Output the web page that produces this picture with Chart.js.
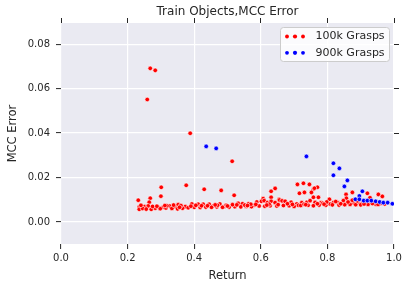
<!DOCTYPE html>
<html>
<head>
<meta charset="utf-8">
<script src="https://cdn.jsdelivr.net/npm/chart.js@4"></script>
<style>
  html, body { margin: 0; padding: 0; background: #ffffff; }
  #wrap { width: 410px; height: 290px; }
</style>
</head>
<body>
<div id="wrap"><canvas id="chart" width="410" height="290"></canvas></div>
<script>
// 100k grasps: return vs MCC error
var grasps100kReturn = [
  0.268, 0.283, 0.259, 0.388, 0.514, 0.301, 0.376, 0.430, 0.481, 0.520,
  0.232, 0.268, 0.300, 0.265, 0.710, 0.728, 0.746, 0.770, 0.758, 0.761,
  0.716, 0.731, 0.752, 0.643, 0.631, 0.631, 0.875, 0.920, 0.953, 0.965,
  0.856, 0.773, 0.758, 0.857, 0.655, 0.607,
  0.235, 0.250, 0.262, 0.292, 0.307, 0.326, 0.343, 0.352, 0.373, 0.393,
  0.412, 0.427, 0.445, 0.457, 0.477, 0.490, 0.496, 0.532, 0.545, 0.563,
  0.580, 0.588, 0.602, 0.610, 0.620, 0.631, 0.643, 0.656, 0.664, 0.673,
  0.691, 0.708, 0.713, 0.723, 0.738, 0.748, 0.763, 0.781, 0.786, 0.806,
  0.808, 0.818, 0.831, 0.848, 0.858, 0.870, 0.880, 0.928, 0.892, 0.905,
  0.915, 0.940, 0.960,
  0.235, 0.245, 0.256, 0.271, 0.283, 0.298, 0.315, 0.333, 0.350, 0.365,
  0.382, 0.400, 0.418, 0.435, 0.452, 0.468, 0.485, 0.505, 0.522, 0.540,
  0.556, 0.572, 0.595, 0.612, 0.628, 0.648, 0.668, 0.685, 0.700, 0.720,
  0.742, 0.758, 0.775, 0.795, 0.815, 0.835, 0.852, 0.868, 0.885, 0.900,
  0.922, 0.945,
  0.240, 0.275, 0.318, 0.338, 0.360, 0.405, 0.440, 0.470, 0.515, 0.552,
  0.570, 0.625, 0.680, 0.730, 0.770, 0.798, 0.825, 0.862, 0.875, 0.890,
  0.288, 0.312, 0.356, 0.390, 0.422, 0.463, 0.500, 0.528, 0.560, 0.585,
  0.618, 0.652, 0.695, 0.735, 0.790, 0.840, 0.910, 0.935, 0.952, 0.972
];
var grasps100kError = [
  0.0691, 0.0682, 0.0551, 0.0399, 0.0273, 0.0156, 0.0165, 0.0147, 0.0142, 0.0120,
  0.0098, 0.0107, 0.0116, 0.0089, 0.0169, 0.0174, 0.0169, 0.0156, 0.0147, 0.0152,
  0.0129, 0.0133, 0.0133, 0.0151, 0.0138, 0.0111, 0.0133, 0.0129, 0.0124, 0.0115,
  0.0124, 0.0111, 0.0111, 0.0107, 0.0102, 0.0105,
  0.0067, 0.0069, 0.0072, 0.0066, 0.0066, 0.0072, 0.0069, 0.0078, 0.0069, 0.0081,
  0.0080, 0.0080, 0.0080, 0.0072, 0.0081, 0.0069, 0.0075, 0.0084, 0.0082, 0.0082,
  0.0075, 0.0090, 0.0093, 0.0096, 0.0087, 0.0093, 0.0087, 0.0099, 0.0095, 0.0093,
  0.0089, 0.0081, 0.0075, 0.0087, 0.0088, 0.0096, 0.0088, 0.0087, 0.0084, 0.0102,
  0.0081, 0.0087, 0.0087, 0.0096, 0.0084, 0.0093, 0.0084, 0.0109, 0.0088, 0.0085,
  0.0082, 0.0086, 0.0083,
  0.0057, 0.0061, 0.0058, 0.0057, 0.0062, 0.0060, 0.0063, 0.0061, 0.0059, 0.0062,
  0.0064, 0.0066, 0.0065, 0.0067, 0.0066, 0.0068, 0.0066, 0.0067, 0.0069, 0.0068,
  0.0070, 0.0069, 0.0072, 0.0071, 0.0073, 0.0072, 0.0074, 0.0073, 0.0070, 0.0074,
  0.0075, 0.0073, 0.0076, 0.0075, 0.0077, 0.0076, 0.0078, 0.0079, 0.0078, 0.0077,
  0.0079, 0.0080,
  0.0075, 0.0070, 0.0073, 0.0076, 0.0074, 0.0075, 0.0073, 0.0075, 0.0078, 0.0076,
  0.0080, 0.0080, 0.0082, 0.0080, 0.0082, 0.0090, 0.0092, 0.0090, 0.0098, 0.0095,
  0.0071, 0.0074, 0.0066, 0.0071, 0.0073, 0.0077, 0.0072, 0.0077, 0.0074, 0.0079,
  0.0076, 0.0078, 0.0079, 0.0078, 0.0080, 0.0082, 0.0081, 0.0083, 0.0079, 0.0081
];

// 900k grasps
var grasps900kReturn = [
  0.436, 0.466, 0.737, 0.818, 0.836, 0.818, 0.860, 0.851, 0.905, 0.896,
  0.884, 0.896, 0.909, 0.920, 0.932, 0.945, 0.957, 0.968, 0.981, 0.995
];
var grasps900kError = [
  0.0340, 0.0331, 0.0295, 0.0264, 0.0241, 0.0210, 0.0187, 0.0160, 0.0138, 0.0117,
  0.0102, 0.0102, 0.0096, 0.0096, 0.0096, 0.0093, 0.0090, 0.0087, 0.0087, 0.0082
];

var seriesLabels = ['100k Grasps', '900k Grasps'];
var seriesColors = ['#ff0000', '#0000ff'];
var xTicks = [0.0, 0.2, 0.4, 0.6, 0.8, 1.0];
var yTicks = [0.00, 0.02, 0.04, 0.06, 0.08];

var textColor = '#262626';
var fontFamily = "'DejaVu Sans', sans-serif";

function toPoints(xs, ys) {
    return xs.map(function (x, i) { return { x: x, y: ys[i] }; });
}

function fixedTicks(values) {
    return function (scale) {
        scale.ticks = values.map(function (v) { return { value: v }; });
    };
}

// seaborn style grey plot area
var plotBackground = {
    id: 'plotBackground',
    beforeDraw: function (chart) {
        var a = chart.chartArea, ctx = chart.ctx;
        ctx.save();
        ctx.fillStyle = '#eaeaf2';
        ctx.fillRect(a.left, a.top, a.right - a.left, a.bottom - a.top);
        ctx.restore();
    }
};

// matplotlib-like legend with three dots per entry
var dotLegend = {
    id: 'dotLegend',
    afterDraw: function (chart) {
        var a = chart.chartArea, ctx = chart.ctx;
        var w = 109, h = 34;
        var left = a.right - 5 - w, top = a.top + 4;
        ctx.save();
        ctx.beginPath();
        ctx.roundRect(left + 0.5, top + 0.5, w, h, 3);
        ctx.fillStyle = 'rgba(255,255,255,0.8)';
        ctx.fill();
        ctx.strokeStyle = '#cccccc';
        ctx.lineWidth = 1;
        ctx.stroke();
        ctx.font = '11px ' + fontFamily;
        ctx.textBaseline = 'middle';
        seriesLabels.forEach(function (lab, i) {
            var y = top + 9.5 + i * 16.3;
            [7, 15, 23].forEach(function (dx, k) {
                ctx.beginPath();
                ctx.arc(left + dx, y, k === 1 ? 2.1 : 1.9, 0, Math.PI * 2);
                ctx.fillStyle = seriesColors[i];
                ctx.fill();
            });
            ctx.fillStyle = textColor;
            ctx.fillText(lab, left + 35.5, y);
        });
        ctx.restore();
    }
};

var tickFont = { family: fontFamily, size: 10 };
var labelFont = { family: fontFamily, size: 11.5 };

var ctx = document.getElementById('chart').getContext('2d');
var chart = new Chart(ctx, {
    type: 'scatter',
    data: {
        datasets: [{
            label: seriesLabels[0],
            data: toPoints(grasps100kReturn, grasps100kError),
            backgroundColor: seriesColors[0],
            borderColor: '#ffffff',
            borderWidth: 0.6,
            pointRadius: 2.3,
            order: 2
        }, {
            label: seriesLabels[1],
            data: toPoints(grasps900kReturn, grasps900kError),
            backgroundColor: seriesColors[1],
            borderColor: '#ffffff',
            borderWidth: 0.6,
            pointRadius: 2.3,
            order: 1
        }]
    },
    options: {
        responsive: false,
        animation: false,
        events: [],
        layout: { padding: 0 },
        plugins: {
            legend: { display: false },
            title: { display: false },
            tooltip: { enabled: false }
        },
        scales: {
            x: {
                type: 'linear', position: 'bottom', min: 0, max: 1,
                afterBuildTicks: fixedTicks(xTicks),
                afterFit: function (s) { s.height = 46; },
                border: { display: false },
                grid: { color: '#ffffff', lineWidth: 1.2, tickColor: textColor, tickLength: 5, tickWidth: 1 },
                ticks: { font: tickFont, color: textColor, padding: 3.5, maxRotation: 0,
                         callback: function (v) { return v.toFixed(1); } },
                title: { display: true, text: 'Return', font: labelFont, color: textColor,
                         padding: { top: 0, bottom: 7.4 } }
            },
            xTop: {
                type: 'linear', position: 'top', min: 0, max: 1,
                afterBuildTicks: fixedTicks(xTicks),
                afterFit: function (s) { s.height = 23; },
                border: { display: false },
                grid: { drawOnChartArea: false, tickColor: textColor, tickLength: 5, tickWidth: 1 },
                ticks: { display: false },
                title: { display: true, text: 'Train Objects,MCC Error',
                         font: { family: fontFamily, size: 12 }, color: textColor,
                         padding: { top: 5, bottom: 0 } }
            },
            y: {
                type: 'linear', position: 'left', min: -0.0099, max: 0.0895,
                afterBuildTicks: fixedTicks(yTicks),
                afterFit: function (s) { s.width = 61; },
                border: { display: false },
                grid: { color: '#ffffff', lineWidth: 1.2, tickColor: textColor, tickLength: 5, tickWidth: 1 },
                ticks: { font: tickFont, color: textColor, padding: 6,
                         callback: function (v) { return v.toFixed(2); } },
                title: { display: true, text: 'MCC Error', font: labelFont, color: textColor,
                         padding: { top: 5.8, bottom: 0 } }
            },
            yRight: {
                type: 'linear', position: 'right', min: -0.0099, max: 0.0895,
                afterBuildTicks: fixedTicks(yTicks),
                afterFit: function (s) { s.width = 16; },
                border: { display: false },
                grid: { drawOnChartArea: false, tickColor: textColor, tickLength: 5, tickWidth: 1 },
                ticks: { display: false }
            }
        }
    },
    plugins: [plotBackground, dotLegend]
});
</script>
</body>
</html>
